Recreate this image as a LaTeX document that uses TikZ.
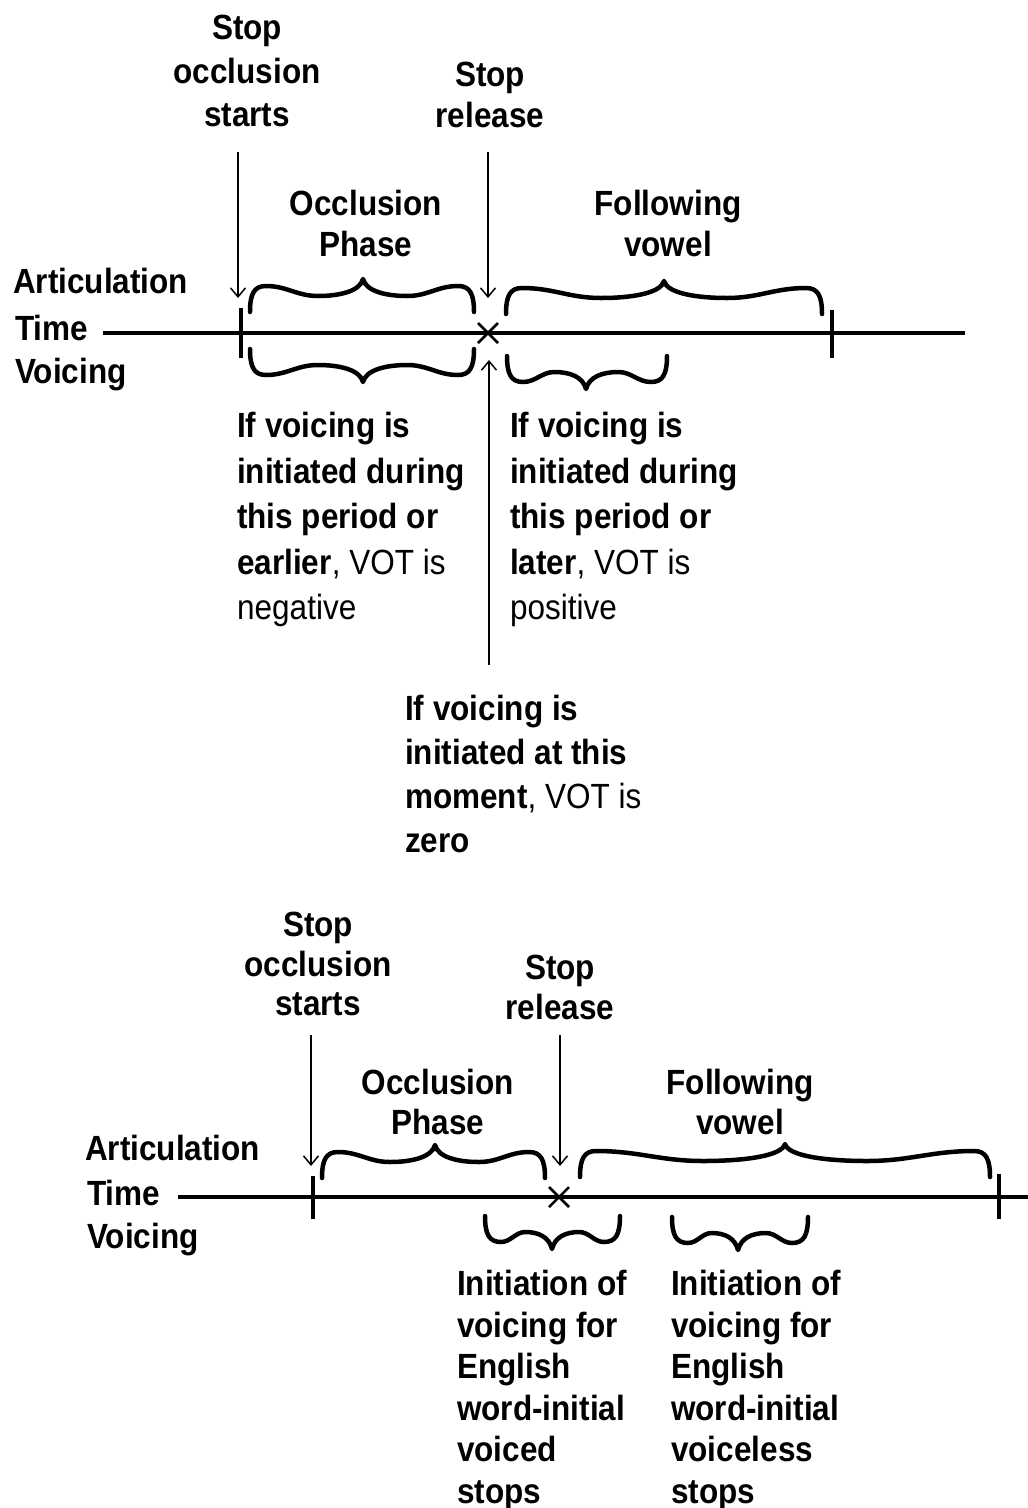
\documentclass[tikz,border=0pt]{standalone}
\usepackage{fontspec}
\setmainfont{Liberation Sans}[FakeStretch=0.9]
\usetikzlibrary{arrows.meta}
% horizontal curly brace: #1 x-left, #2 x-right, #3 x-tip, #4 y of ends, #5 direction (-1 up, +1 down)
\newcommand\myhbrace[5]{%
 \pgfmathsetmacro\BrXa{#1}\pgfmathsetmacro\BrXb{#2}\pgfmathsetmacro\BrXm{#3}%
 \pgfmathsetmacro\BrYb{#4}\pgfmathsetmacro\BrS{#5}%
 \pgfmathsetmacro\BrYco{\BrYb+\BrS*26}%
 \pgfmathsetmacro\BrYsa{\BrYb+\BrS*16}%
 \pgfmathsetmacro\BrYtp{\BrYb+\BrS*33}%
 \pgfmathsetmacro\BrYen{\BrYb+\BrS*18}%
 \pgfmathsetmacro\BrYtc{\BrYb+\BrS*21}%
 \pgfmathsetmacro\BrXca{\BrXa+16}%
 \pgfmathsetmacro\BrXcb{\BrXb-16}%
 \pgfmathsetmacro\BrXsa{\BrXa+0.6*(\BrXm-\BrXa)}%
 \pgfmathsetmacro\BrXsb{\BrXb-0.6*(\BrXb-\BrXm)}%
 \pgfmathsetmacro\BrPa{\BrXca+0.4*(\BrXsa-\BrXca)}%
 \pgfmathsetmacro\BrPb{\BrXsa-0.4*(\BrXsa-\BrXca)}%
 \pgfmathsetmacro\BrPc{\BrXsa+0.5*(\BrXm-\BrXsa)}%
 \pgfmathsetmacro\BrPd{\BrXsb-0.5*(\BrXsb-\BrXm)}%
 \pgfmathsetmacro\BrPe{\BrXsb+0.4*(\BrXcb-\BrXsb)}%
 \pgfmathsetmacro\BrPf{\BrXcb-0.4*(\BrXcb-\BrXsb)}%
 \draw[bracestyle] (\BrXa,\BrYb) .. controls (\BrXa,\BrYen) and (\BrXa+4,\BrYco) .. (\BrXca,\BrYco)
   .. controls (\BrPa,\BrYco) and (\BrPb,\BrYsa) .. (\BrXsa,\BrYsa)
   .. controls (\BrPc,\BrYsa) and (\BrXm-3,\BrYtc) .. (\BrXm,\BrYtp)
   .. controls (\BrXm+3,\BrYtc) and (\BrPd,\BrYsa) .. (\BrXsb,\BrYsa)
   .. controls (\BrPe,\BrYsa) and (\BrPf,\BrYco) .. (\BrXcb,\BrYco)
   .. controls (\BrXb-4,\BrYco) and (\BrXb,\BrYen) .. (\BrXb,\BrYb);
}
\begin{document}
\begin{tikzpicture}[x=1pt,y=-1pt,
  lbl/.style={font=\fontsize{35}{43.5}\selectfont\bfseries, align=center, inner sep=0pt, anchor=north},
  lblr/.style={font=\fontsize{35}{41}\selectfont\bfseries, align=center, inner sep=0pt, anchor=north},
  lblb/.style={font=\fontsize{35}{39.5}\selectfont\bfseries, align=center, inner sep=0pt, anchor=north},
  side/.style={font=\fontsize{35}{42}\selectfont\bfseries, align=left, inner sep=0pt, anchor=north west},
  parA/.style={font=\fontsize{35}{45.5}\selectfont\bfseries, align=left, inner sep=0pt, anchor=north west},
  parB/.style={font=\fontsize{35}{44}\selectfont\bfseries, align=left, inner sep=0pt, anchor=north west},
  parC/.style={font=\fontsize{35}{41.5}\selectfont\bfseries, align=left, inner sep=0pt, anchor=north west},
  mainline/.style={line width=4pt},
  tick/.style={line width=3.5pt},
  xmark/.style={line width=2.5pt},
  arr/.style={line width=1.5pt, -{Straight Barb[length=9pt,width=15pt]}},
  bracestyle/.style={line width=4.5pt, line cap=round, line join=round},
]
\fill[white] (0,0) rectangle (1028,1508);
\useasboundingbox (0,0) rectangle (1028,1508);

% ================= top diagram =================
\node[lbl] (sos1) at (247,15) {Stop\\occlusion\\starts};
\node[lblr] (rel1) at (490,62) {Stop\\release};
\node[lblr] (occ1) at (366,190) {Occlusion\\Phase};
\node[lblr] (fol1) at (668,190) {Following\\vowel};
\node[side] (art1) at (13,268) {Articulation};
\node[side] (time1) at (15,315) {Time};
\node[side] (voi1) at (15,358) {Voicing};

\coordinate (L1s) at (103,333);
\coordinate (L1e) at (965,333);
\coordinate (T1a) at (241,333);
\coordinate (T1b) at (832,335);
\coordinate (X1) at (488,333);
\draw[mainline] (L1s) -- (L1e);
\draw[tick] ([yshift=-25pt]T1a) -- ([yshift=25pt]T1a);
\draw[tick] ([yshift=-23pt]T1b) -- ([yshift=25pt]T1b);
\draw[xmark] ([shift={(-10,-10)}]X1) -- ([shift={(10,10)}]X1);
\draw[xmark] ([shift={(-10,10)}]X1) -- ([shift={(10,-10)}]X1);

\coordinate (A1s) at (238,152);
\coordinate (A1e) at (238,298);
\coordinate (A2s) at (488,152);
\coordinate (A2e) at (488,298);
\coordinate (A3s) at (489,665);
\coordinate (A3e) at (489,360);
\draw[arr] (A1s) -- (A1e);
\draw[arr] (A2s) -- (A2e);
\draw[arr] (A3s) -- (A3e);

\myhbrace{250}{474}{363}{312}{-1}
\myhbrace{506}{822}{664}{314}{-1}
\myhbrace{250}{474}{363}{349}{1}
\myhbrace{507}{667}{586}{356}{1}

\node[parA] (p1) at (237,412) {If voicing is\\initiated during\\this period or\\earlier{\mdseries, VOT is}\\{\mdseries negative}};
\node[parA] (p2) at (510,412) {If voicing is\\initiated during\\this period or\\later{\mdseries, VOT is}\\{\mdseries positive}};
\node[parB] (p3) at (405,695) {If voicing is\\initiated at this\\moment{\mdseries, VOT is}\\zero};

% ================= bottom diagram =================
\node[lblb] (sos2) at (318,912) {Stop\\occlusion\\starts};
\node[lblb] (rel2) at (560,955) {Stop\\release};
\node[lblb] (occ2) at (438,1069) {Occlusion\\Phase};
\node[lblb] (fol2) at (740,1069) {Following\\vowel};
\node[side] (art2) at (85,1135) {Articulation};
\node[side] (time2) at (87,1180) {Time};
\node[side] (voi2) at (87,1223) {Voicing};

\coordinate (L2s) at (178,1197);
\coordinate (L2e) at (1030,1197);
\coordinate (T2a) at (313,1197);
\coordinate (T2b) at (999,1196);
\coordinate (X2) at (559,1197);
\draw[mainline] (L2s) -- (L2e);
\draw[tick] ([yshift=-22pt]T2a) -- ([yshift=21pt]T2a);
\draw[tick] ([yshift=-23pt]T2b) -- ([yshift=22pt]T2b);
\draw[xmark] ([shift={(-10,-10)}]X2) -- ([shift={(10,10)}]X2);
\draw[xmark] ([shift={(-10,10)}]X2) -- ([shift={(10,-10)}]X2);

\coordinate (B1s) at (311,1035);
\coordinate (B1e) at (311,1166);
\coordinate (B2s) at (560,1035);
\coordinate (B2e) at (560,1166);
\draw[arr] (B1s) -- (B1e);
\draw[arr] (B2s) -- (B2e);

\myhbrace{322}{545}{435}{1178}{-1}
\myhbrace{580}{990}{785}{1177}{-1}
\myhbrace{485}{620}{552}{1216}{1}
\myhbrace{672}{808}{738}{1217}{1}

\node[parC] (p4) at (457,1270) {Initiation of\\voicing for\\English\\word-initial\\voiced\\stops};
\node[parC] (p5) at (671,1270) {Initiation of\\voicing for\\English\\word-initial\\voiceless\\stops};
\end{tikzpicture}
\end{document}
